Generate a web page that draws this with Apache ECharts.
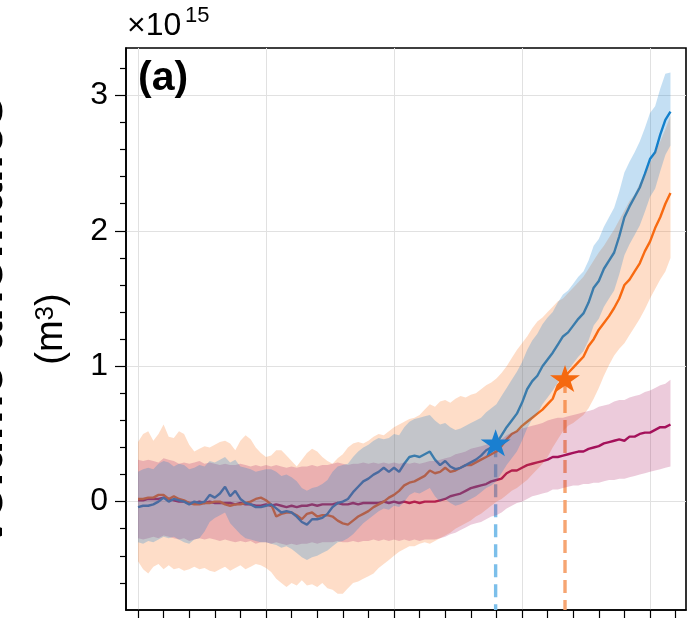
<!DOCTYPE html>
<html><head><meta charset="utf-8">
<script src="https://cdn.jsdelivr.net/npm/echarts@6/dist/echarts.min.js"></script>
<style>html,body{margin:0;padding:0;background:#fff}#c{width:688px;height:618px}</style>
</head><body><div id="c"></div>
<script>
// x positions (time index, every 2 steps)
const tIndex = [0,2,4,6,8,10,12,14,16,18,20,22,24,26,28,30,32,34,36,38,40,42,44,46,48,50,52,54,56,58,60,62,64,66,68,70,72,74,76,78,80,82,84,86,88,90,92,94,96,98,100,102,104,106,108,110,112,114,116,118,120,122,124,126,128,130,132,134,136,138,140,142,144,146,148,150,152,154,156,158,160,162,164,166,168,170,172,174,176,178,180,182,184,186,188,190,192,194,196,198,200,202,204,206,208];
const xMajorTicks = [0,50,100,150,200];
const yMajorTicks = [0,1,2,3];

const blueMean = [-0.04,-0.03,-0.03,-0.02,0.00,0.03,0.00,0.02,0.01,0.00,
 -0.02,0.00,-0.01,0.00,0.05,0.03,0.06,0.11,0.04,0.08,
 0.02,-0.01,-0.02,-0.04,-0.04,-0.03,-0.02,-0.05,-0.08,-0.07,
 -0.08,-0.11,-0.15,-0.17,-0.13,-0.13,-0.12,-0.09,-0.04,-0.01,
 0.00,0.02,0.07,0.11,0.15,0.17,0.20,0.22,0.25,0.22,
 0.25,0.22,0.28,0.33,0.34,0.33,0.35,0.37,0.31,0.27,
 0.30,0.26,0.24,0.25,0.27,0.29,0.31,0.34,0.38,0.40,
 0.43,0.49,0.55,0.60,0.65,0.73,0.83,0.89,0.93,1.00,
 1.05,1.10,1.16,1.22,1.25,1.30,1.35,1.39,1.47,1.58,
 1.63,1.72,1.78,1.84,1.96,2.10,2.18,2.25,2.32,2.42,
 2.53,2.58,2.71,2.82,2.88];
const blueUpper = [0.22,0.24,0.25,0.24,0.28,0.30,0.29,0.26,0.28,0.27,
 0.24,0.25,0.27,0.26,0.30,0.29,0.31,0.33,0.29,0.31,
 0.26,0.25,0.24,0.22,0.23,0.24,0.24,0.22,0.19,0.20,
 0.18,0.15,0.10,0.08,0.10,0.11,0.13,0.16,0.22,0.26,
 0.27,0.28,0.33,0.37,0.40,0.42,0.45,0.47,0.46,0.47,
 0.50,0.49,0.55,0.59,0.61,0.62,0.63,0.64,0.60,0.57,
 0.58,0.55,0.53,0.54,0.56,0.58,0.60,0.62,0.66,0.69,
 0.72,0.78,0.84,0.90,0.96,1.03,1.12,1.19,1.24,1.31,
 1.36,1.40,1.47,1.53,1.56,1.61,1.66,1.70,1.78,1.89,
 1.94,2.03,2.10,2.17,2.29,2.43,2.51,2.58,2.66,2.76,
 2.87,2.92,3.05,3.16,3.17];
const blueLower = [-0.30,-0.31,-0.29,-0.30,-0.28,-0.26,-0.27,-0.26,-0.28,-0.30,
 -0.31,-0.28,-0.27,-0.22,-0.15,-0.12,-0.10,-0.08,-0.16,-0.20,
 -0.24,-0.27,-0.28,-0.29,-0.30,-0.30,-0.31,-0.32,-0.34,-0.33,
 -0.35,-0.38,-0.41,-0.43,-0.41,-0.40,-0.38,-0.36,-0.33,-0.30,
 -0.29,-0.27,-0.24,-0.20,-0.16,-0.13,-0.10,-0.07,-0.05,-0.06,
 -0.03,-0.04,0.00,0.05,0.07,0.06,0.08,0.10,0.04,0.00,
 0.02,-0.01,-0.03,-0.02,0.00,0.02,0.04,0.07,0.10,0.12,
 0.15,0.21,0.27,0.32,0.37,0.45,0.54,0.61,0.65,0.72,
 0.77,0.82,0.88,0.94,0.97,1.02,1.07,1.11,1.19,1.30,
 1.35,1.44,1.50,1.56,1.68,1.82,1.90,1.97,2.04,2.14,
 2.25,2.31,2.44,2.56,2.63];

const orangeMean = [0.02,0.02,0.03,0.03,0.05,0.05,0.02,0.04,0.02,0.01,
 -0.01,-0.02,-0.02,-0.01,-0.01,0.00,0.00,-0.02,-0.03,-0.02,
 -0.02,-0.01,0.00,0.02,0.03,0.01,-0.02,-0.11,-0.09,-0.08,
 -0.08,-0.10,-0.13,-0.09,-0.08,-0.11,-0.10,-0.10,-0.11,-0.14,
 -0.16,-0.17,-0.14,-0.11,-0.09,-0.07,-0.04,-0.02,0.00,0.03,
 0.05,0.08,0.12,0.14,0.15,0.17,0.19,0.23,0.21,0.22,
 0.25,0.22,0.23,0.25,0.27,0.27,0.29,0.31,0.33,0.35,
 0.37,0.41,0.46,0.50,0.52,0.56,0.59,0.62,0.65,0.68,
 0.72,0.76,0.86,0.90,0.95,0.99,1.03,1.07,1.15,1.20,
 1.27,1.32,1.37,1.43,1.50,1.60,1.64,1.70,1.76,1.85,
 1.92,2.02,2.10,2.20,2.28];
const orangeUpper = [0.44,0.50,0.52,0.45,0.50,0.57,0.48,0.47,0.52,0.50,
 0.42,0.37,0.39,0.41,0.40,0.42,0.44,0.45,0.43,0.38,
 0.45,0.49,0.46,0.40,0.36,0.33,0.34,0.38,0.38,0.34,
 0.30,0.26,0.31,0.36,0.39,0.37,0.33,0.30,0.28,0.32,
 0.35,0.40,0.43,0.44,0.43,0.45,0.48,0.50,0.49,0.52,
 0.55,0.57,0.59,0.61,0.62,0.64,0.68,0.72,0.70,0.74,
 0.75,0.73,0.76,0.78,0.77,0.79,0.80,0.83,0.86,0.88,
 0.91,0.95,1.00,1.06,1.12,1.17,1.22,1.28,1.33,1.36,
 1.40,1.44,1.48,1.50,1.54,1.58,1.62,1.66,1.72,1.78,
 1.84,1.89,1.95,2.01,2.08,2.15,2.22,2.27,2.35,2.42,
 2.50,2.58,2.66,2.75,2.85];
const orangeLower = [-0.44,-0.50,-0.53,-0.48,-0.46,-0.50,-0.47,-0.50,-0.49,-0.51,
 -0.50,-0.48,-0.50,-0.49,-0.51,-0.52,-0.50,-0.48,-0.51,-0.49,
 -0.47,-0.50,-0.48,-0.46,-0.47,-0.49,-0.52,-0.57,-0.60,-0.63,
 -0.60,-0.62,-0.58,-0.62,-0.61,-0.63,-0.60,-0.64,-0.65,-0.68,
 -0.68,-0.64,-0.60,-0.59,-0.57,-0.55,-0.53,-0.49,-0.46,-0.43,
 -0.40,-0.37,-0.35,-0.33,-0.33,-0.31,-0.30,-0.31,-0.29,-0.27,
 -0.25,-0.23,-0.20,-0.18,-0.16,-0.14,-0.11,-0.09,-0.06,-0.03,
 0.00,0.02,0.05,0.08,0.10,0.13,0.16,0.20,0.24,0.28,
 0.33,0.40,0.46,0.52,0.56,0.58,0.61,0.64,0.69,0.76,
 0.84,0.93,1.01,1.08,1.13,1.17,1.23,1.29,1.35,1.42,
 1.50,1.57,1.64,1.70,1.80];

const crimsonMean = [0.01,0.01,0.02,0.02,0.02,0.03,0.02,0.01,0.00,0.00,
 -0.01,-0.01,0.00,-0.01,0.00,-0.01,-0.01,-0.01,-0.01,-0.02,
 -0.01,-0.02,-0.02,-0.03,-0.03,-0.02,-0.03,-0.02,-0.03,-0.04,
 -0.03,-0.04,-0.03,-0.03,-0.02,-0.03,-0.02,-0.02,-0.02,-0.01,
 -0.02,-0.02,-0.01,-0.02,-0.01,-0.01,-0.01,-0.01,0.00,-0.01,
 0.00,-0.01,0.00,-0.01,0.00,-0.01,0.00,0.00,0.00,0.01,
 0.02,0.04,0.05,0.06,0.08,0.10,0.11,0.12,0.13,0.15,
 0.16,0.17,0.21,0.23,0.23,0.25,0.27,0.28,0.29,0.30,
 0.31,0.33,0.33,0.34,0.35,0.36,0.37,0.37,0.39,0.40,
 0.41,0.43,0.44,0.45,0.46,0.45,0.48,0.48,0.50,0.51,
 0.51,0.53,0.55,0.55,0.57];
const crimsonUpper = [0.31,0.30,0.31,0.30,0.29,0.32,0.31,0.30,0.28,0.29,
 0.28,0.29,0.30,0.28,0.29,0.28,0.27,0.28,0.27,0.27,
 0.28,0.27,0.26,0.27,0.26,0.27,0.26,0.27,0.26,0.25,
 0.26,0.25,0.26,0.26,0.27,0.26,0.27,0.27,0.28,0.29,
 0.28,0.27,0.28,0.28,0.29,0.28,0.29,0.28,0.29,0.28,
 0.29,0.28,0.29,0.28,0.29,0.28,0.29,0.30,0.30,0.31,
 0.32,0.33,0.35,0.36,0.37,0.39,0.40,0.41,0.42,0.44,
 0.45,0.46,0.49,0.51,0.52,0.54,0.55,0.56,0.57,0.58,
 0.60,0.61,0.62,0.62,0.63,0.64,0.65,0.66,0.67,0.68,
 0.70,0.71,0.72,0.74,0.75,0.75,0.77,0.78,0.79,0.81,
 0.82,0.84,0.86,0.87,0.90];
const crimsonLower = [-0.27,-0.28,-0.27,-0.26,-0.27,-0.25,-0.26,-0.27,-0.28,-0.27,
 -0.29,-0.28,-0.27,-0.28,-0.27,-0.28,-0.29,-0.28,-0.29,-0.30,
 -0.29,-0.30,-0.29,-0.31,-0.30,-0.30,-0.31,-0.30,-0.31,-0.32,
 -0.31,-0.32,-0.31,-0.31,-0.30,-0.31,-0.30,-0.30,-0.30,-0.29,
 -0.30,-0.30,-0.29,-0.30,-0.29,-0.29,-0.28,-0.29,-0.28,-0.29,
 -0.28,-0.29,-0.28,-0.29,-0.28,-0.29,-0.28,-0.28,-0.28,-0.27,
 -0.26,-0.24,-0.23,-0.21,-0.19,-0.17,-0.16,-0.15,-0.13,-0.11,
 -0.10,-0.08,-0.05,-0.03,-0.01,0.00,0.02,0.04,0.05,0.06,
 0.07,0.09,0.09,0.10,0.11,0.12,0.12,0.13,0.13,0.14,
 0.14,0.15,0.16,0.16,0.17,0.17,0.18,0.19,0.20,0.21,
 0.22,0.23,0.24,0.25,0.26];

// threshold markers [x, y]
const blueStar = [139.7, 0.424];
const orangeStar = [166.8, 0.898];
const yAxisBottom = -0.8;

const FONT = '"Liberation Sans", Arial, Helvetica, sans-serif';
const C_BLUE = '#1380CB', C_ORANGE = '#F76A12', C_CRIMSON = '#A3105A';
const STAR = 'path://M100,0 L122.45,69.1 L195.1,69.1 L136.33,111.8 L158.8,180.9 L100,138.2 L41.2,180.9 L63.67,111.8 L4.9,69.1 L77.55,69.1 Z';

function pairs(ys){ return tIndex.map((x,i)=>[x, ys[i]]); }
function band(upper, lower, fill, z){
  return {
    type:'custom', z:z, silent:true, clip:true,
    data:[[tIndex[0], upper[0]]],
    renderItem:function(params, api){
      const pts=[];
      for(let i=0;i<tIndex.length;i++) pts.push(api.coord([tIndex[i], upper[i]]));
      for(let i=tIndex.length-1;i>=0;i--) pts.push(api.coord([tIndex[i], lower[i]]));
      return {type:'polygon', shape:{points:pts}, style:{fill:fill, stroke:null}};
    }
  };
}
function meanLine(ys,color){
  return {type:'line', z:2, data:pairs(ys), showSymbol:false, symbol:'none', silent:true,
    lineStyle:{color:color,width:2.4}, itemStyle:{color:color}};
}
function dashed(pt,color){
  return {type:'line', z:1, data:[[pt[0],pt[1]],[pt[0],yAxisBottom]], showSymbol:false, symbol:'none', silent:true,
    lineStyle:{color:color,width:3.4,type:[13,7]}};
}
function star(pt,color){
  return {type:'scatter', z:6, data:[pt], symbol:STAR, symbolSize:[30,28.5], symbolKeepAspect:true,
    symbolOffset:[0,-1.5], itemStyle:{color:color, opacity:1}, silent:true};
}

const chart = echarts.init(document.getElementById('c'), null, {renderer:'canvas'});
const tickStyle = {color:'#000', width:1.2};
chart.setOption({
  animation:false,
  grid:{left:126,right:2,top:48,bottom:8,show:true,borderColor:'#000',borderWidth:1.6,backgroundColor:'rgba(0,0,0,0)'},
  xAxis:{type:'value', min:-4.6875, max:214.0625,
    axisLine:{show:true,onZero:false,lineStyle:{color:'#000',width:1.6}},
    axisTick:{show:true,length:9,customValues:xMajorTicks,lineStyle:tickStyle},
    minorTick:{show:true,splitNumber:5,length:8,lineStyle:tickStyle},
    axisLabel:{show:false},
    splitLine:{show:true,lineStyle:{color:'#e1e1e1',width:1}},
    minorSplitLine:{show:false}},
  yAxis:{type:'value', min:-0.8, max:3.35,
    axisLine:{show:true,onZero:false,lineStyle:{color:'#000',width:1.6}},
    axisTick:{show:true,length:11,customValues:yMajorTicks,lineStyle:tickStyle},
    minorTick:{show:true,splitNumber:5,length:6,lineStyle:tickStyle},
    axisLabel:{show:true,customValues:yMajorTicks,fontSize:32,fontFamily:FONT,color:'#000',margin:18,
      formatter:function(v){ return Number.isInteger(v) ? String(v) : ''; }},
    splitLine:{show:true,lineStyle:{color:'#e1e1e1',width:1}}},
  series:[
    meanLine(crimsonMean, C_CRIMSON),
    meanLine(orangeMean, C_ORANGE),
    meanLine(blueMean, C_BLUE),
    dashed(blueStar, '#7CBFEA'),
    dashed(orangeStar, '#F6A572'),
    band(orangeUpper, orangeLower, 'rgba(249,106,16,0.23)', 3),
    band(crimsonUpper, crimsonLower, 'rgba(168,16,90,0.22)', 4),
    band(blueUpper, blueLower, 'rgba(19,128,207,0.25)', 5),
    star(blueStar, '#1A7FD0'),
    star(orangeStar, '#F5690F')
  ],
  graphic:[
    {type:'text', x:127, y:26, z:10, style:{text:'×10', fontSize:32, fontFamily:FONT, fill:'#000', align:'left', verticalAlign:'middle'}},
    {type:'text', x:185, y:15.5, z:10, style:{text:'15', fontSize:22, fontFamily:FONT, fill:'#000', align:'left', verticalAlign:'middle'}},
    {type:'text', x:138, y:78.8, z:10, style:{text:'(a)', fontSize:41, fontWeight:'bold', fontFamily:FONT, fill:'#000', align:'left', verticalAlign:'middle'}},
    {type:'text', x:-12, y:323, rotation:Math.PI/2, z:10, style:{text:'Volume anomalies', fontSize:52, fontWeight:'bold', fontFamily:FONT, fill:'#000', align:'center', verticalAlign:'middle'}},
    {type:'text', x:52, y:329, rotation:Math.PI/2, z:10, style:{text:'(m{s|3})', fontSize:38, fontFamily:FONT, fill:'#000', align:'center', verticalAlign:'middle',
      rich:{s:{fontSize:26, fontFamily:FONT, fill:'#000', verticalAlign:'top'}}}}
  ]
});
</script></body></html>
